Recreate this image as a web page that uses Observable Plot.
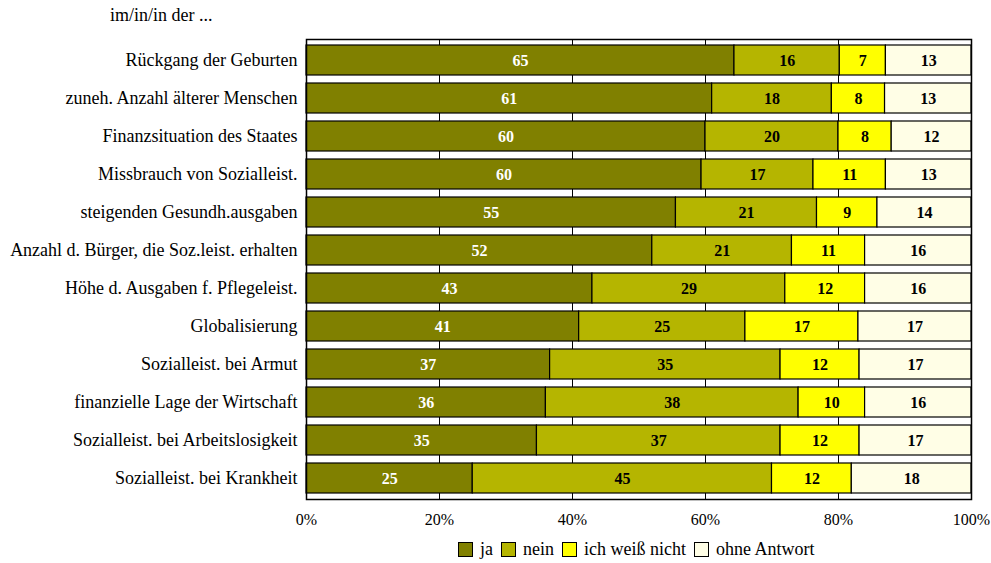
<!DOCTYPE html>
<html>
<head>
<meta charset="utf-8">
<script src="https://cdn.jsdelivr.net/npm/d3@7"></script>
<script src="https://cdn.jsdelivr.net/npm/@observablehq/plot@0.6"></script>
<style>
  body { margin: 0; background: #fff; font-family: "Liberation Serif", "DejaVu Serif", serif; }
  #wrap { position: relative; width: 991px; height: 563px; }
  #head { position: absolute; left: 110px; top: 5px; font-size: 18px; color: #000; font-family: "Liberation Serif", serif; }
  #legend { position: absolute; left: 458px; top: 539px; font-size: 18px; color: #000; display: flex; align-items: center; white-space: nowrap; font-family: "Liberation Serif", serif; }
  #legend .sw { display: inline-block; width: 13px; height: 13px; border: 1px solid #000; margin-right: 7px; }
  #legend .it { display: inline-flex; align-items: center; margin-right: 8px; }
</style>
</head>
<body>
<div id="wrap">
  <div id="chart"></div>
  <div id="head">im/in/in der ...</div>
  <div id="legend"></div>
</div>
<script>
const categories = [
  "Rückgang der Geburten",
  "zuneh. Anzahl älterer Menschen",
  "Finanzsituation des Staates",
  "Missbrauch von Sozialleist.",
  "steigenden Gesundh.ausgaben",
  "Anzahl d. Bürger, die Soz.leist. erhalten",
  "Höhe d. Ausgaben f. Pflegeleist.",
  "Globalisierung",
  "Sozialleist. bei Armut",
  "finanzielle Lage der Wirtschaft",
  "Sozialleist. bei Arbeitslosigkeit",
  "Sozialleist. bei Krankheit"
];
const answers = ["ja", "nein", "ich weiß nicht", "ohne Antwort"];
const colors = ["#808000", "#b5b500", "#ffff00", "#fffee6"];
const ja =          [65, 61, 60, 60, 55, 52, 43, 41, 37, 36, 35, 25];
const nein =        [16, 18, 20, 17, 21, 21, 29, 25, 35, 38, 37, 45];
const weissNicht =  [7, 8, 8, 11, 9, 11, 12, 17, 12, 10, 12, 12];
const ohneAntwort = [13, 13, 12, 13, 14, 16, 16, 17, 17, 16, 17, 18];
const xTicks = [0, 0.2, 0.4, 0.6, 0.8, 1];

const series = [ja, nein, weissNicht, ohneAntwort];
const data = [];
categories.forEach((c, i) => {
  answers.forEach((a, j) => data.push({cat: c, answer: a, value: series[j][i]}));
});

const stackOpts = {x: "value", y: "cat", z: "answer", offset: "normalize"};

const chart = Plot.plot({
  width: 991,
  height: 535,
  marginLeft: 306,
  marginRight: 20,
  marginTop: 39,
  marginBottom: 36,
  style: {fontFamily: "'Liberation Serif', serif", fontSize: "16px", color: "#000", background: "#fff"},
  x: {domain: [0, 1], ticks: xTicks, tickFormat: d => Math.round(d * 100) + "%", tickSize: 0, tickPadding: 14, label: null},
  y: {domain: categories, padding: 0.2, paddingOuter: 0.1, tickSize: 0, tickPadding: 9, label: null},
  color: {domain: answers, range: colors},
  marks: [
    Plot.ruleX(xTicks.slice(1, -1), {stroke: "#000", strokeWidth: 1}),
    Plot.barX(data, Plot.stackX({...stackOpts, fill: "answer", stroke: "#000", strokeWidth: 1.2})),
    Plot.text(data, Plot.stackX({...stackOpts, text: d => d.answer === "ja" ? d.value : null, fill: "#fff", fontWeight: "bold", fontSize: 16})),
    Plot.text(data, Plot.stackX({...stackOpts, text: d => d.answer !== "ja" ? d.value : null, fill: "#000", fontWeight: "bold", fontSize: 16})),
    Plot.frame({stroke: "#000", strokeWidth: 1.5})
  ]
});
chart.querySelectorAll('g[aria-label="y-axis tick label"]').forEach(el => el.setAttribute("font-size", "18"));
document.getElementById("chart").appendChild(chart);

const legend = document.getElementById("legend");
answers.forEach((a, j) => {
  const it = document.createElement("span");
  it.className = "it";
  const sw = document.createElement("span");
  sw.className = "sw";
  sw.style.background = colors[j];
  it.appendChild(sw);
  it.appendChild(document.createTextNode(a));
  legend.appendChild(it);
});
</script>
</body>
</html>
